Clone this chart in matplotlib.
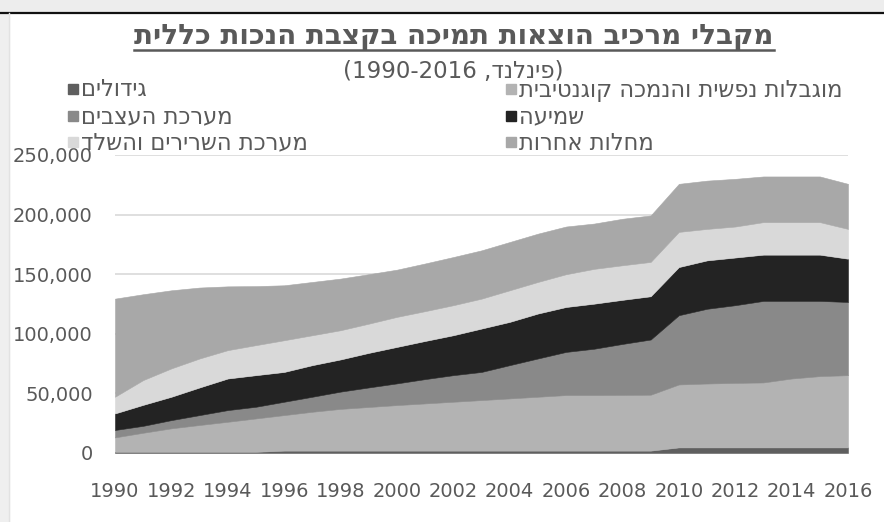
import numpy as np
import matplotlib.pyplot as plt
from matplotlib.patches import Rectangle
from matplotlib.lines import Line2D
from matplotlib.ticker import FuncFormatter

plt.rcParams['font.family'] = ['DejaVu Sans']

# Data (persons), stacked bottom to top
years = list(range(1990, 2017))
tumors = [1000] * 6 + [2000] * 14 + [4700] * 7
mental = [12100, 16000, 19700, 22500, 25200, 28000, 29800, 32600, 35000, 36600, 38200, 39600, 41000, 42400,
          43800, 45200, 46600, 46600, 46700, 46900, 52800, 53600, 54100, 54500, 57800, 59800, 60600]
nerves = [6200, 5800, 6900, 8300, 9800, 9800, 11200, 12600, 14500, 16400, 18200, 20400, 22300, 23600,
          27900, 32100, 36200, 38900, 42800, 46300, 58100, 62700, 65200, 68400, 65100, 63100, 61400]
hearing = [13900, 17600, 19600, 23200, 26500, 26500, 25000, 26500, 27000, 29000, 30600, 32000, 33500, 36400,
           36300, 37700, 37700, 37800, 37000, 36300, 40400, 40600, 40000, 38800, 38800, 38800, 36300]
muscles = [14000, 20800, 23800, 24300, 23800, 25200, 26600, 25100, 24500, 24500, 25200, 25000, 25200, 25100,
           26500, 26500, 27500, 29200, 29000, 28800, 29500, 26400, 26000, 27300, 27300, 27300, 25000]
other = [82300, 72000, 65500, 59500, 53500, 49500, 46100, 44700, 43300, 41500, 39600, 40000, 40400, 40500,
         40500, 40500, 40000, 38000, 39000, 39000, 40300, 40500, 40000, 38300, 38300, 38300, 37800]

series = [tumors, mental, nerves, hearing, muscles, other]
names = ['גידולים', 'מוגבלות נפשית והנמכה קוגנטיבית', 'מערכת העצבים', 'שמיעה',
         'מערכת השרירים והשלד', 'מחלות אחרות']
colors = ['#5f5f5f', '#b3b3b3', '#898989', '#232323', '#d9d9d9', '#a8a8a8']

title = 'מקבלי מרכיב הוצאות תמיכה בקצבת הנכות כללית'
country = 'פינלנד'


def rtl(s):
    # matplotlib lays glyphs left to right, so give it visual order
    return s[::-1]


W, H = 884, 522
fig = plt.figure(figsize=(W / 100, H / 100), dpi=100)


def fx(px):
    return px / W


def fy(py):
    return 1 - py / H


# screenshot frame: grey band on top, black rule, grey strip on the left
fig.patches.append(Rectangle((0, fy(12)), 1, 12 / H, transform=fig.transFigure, color='#ededed', zorder=0))
fig.lines.append(Line2D([0, 1], [fy(12.5), fy(12.5)], transform=fig.transFigure, color='#111111', lw=1.6))
fig.patches.append(Rectangle((0, 0), fx(9), fy(13), transform=fig.transFigure, color='#efefef', zorder=0))
fig.lines.append(Line2D([fx(9), fx(9)], [0, fy(13)], transform=fig.transFigure, color='#e2e2e2', lw=1))

ax = fig.add_axes([fx(115), fy(453), fx(848 - 115), (453 - 155) / H])
x = np.array(years)
base = np.zeros(len(years))
for vals, col in zip(series, colors):
    top = base + np.array(vals)
    ax.fill_between(x, base, top, facecolor=col, edgecolor=col, lw=0.4, zorder=2)
    base = top

ax.set_xlim(1990, 2016)
ax.set_ylim(0, 250000)
ax.set_yticks(range(0, 250001, 50000))
ax.set_xticks(years[::2])
ax.yaxis.set_major_formatter(FuncFormatter(lambda v, p: f'{int(v):,}'))
ax.grid(axis='y', color='#d9d9d9', lw=1.2, zorder=0)
ax.set_axisbelow(True)
for s in ax.spines.values():
    s.set_visible(False)
ax.tick_params(axis='both', length=0, labelsize=14, labelcolor='#595959')
ax.tick_params(axis='y', pad=16)
ax.tick_params(axis='x', pad=21)

# title and subtitle
t = fig.text(fx(454), fy(44), rtl(title), ha='center', va='baseline', fontsize=20,
             weight='bold', color='#595959')
fig.text(fx(453), fy(78), '(1990-2016 ,' + rtl(country) + ')', ha='center', va='baseline',
         fontsize=16.5, color='#595959')

# legend, two columns, marker to the left of the text
left_items = [0, 2, 4]
right_items = [1, 3, 5]
rows_y = [89, 116, 142]
for col_x, items in [(68, left_items), (506, right_items)]:
    for i, ry in zip(items, rows_y):
        fig.patches.append(Rectangle((fx(col_x), fy(ry + 5)), fx(10), 10 / H, transform=fig.transFigure,
                                     color=colors[i], zorder=3))
        fig.text(fx(col_x + 13), fy(ry + 1), rtl(names[i]), ha='left', va='center', fontsize=16.3,
                 color='#595959', zorder=4)

# underline of the title
fig.canvas.draw()
bb = t.get_window_extent(fig.canvas.get_renderer())
fig.lines.append(Line2D([bb.x0 / W, bb.x1 / W], [fy(49.5), fy(49.5)], transform=fig.transFigure,
                        color='#595959', lw=1.8))

fig.savefig('out.png', dpi=100, facecolor='white')
